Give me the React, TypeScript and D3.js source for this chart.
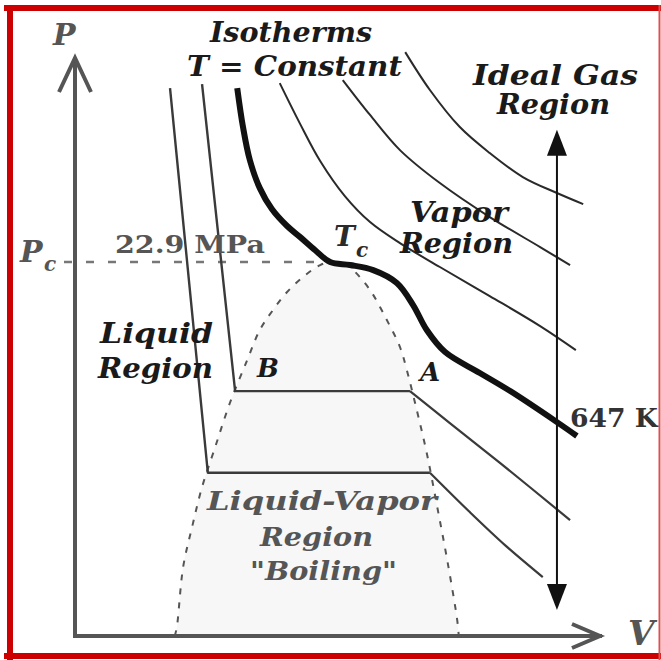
import React from "react";
import { scaleLinear, line, curveCatmullRom, curveLinear } from "d3";

const W = 661;
const H = 660;

const V_MAX = 10;
const P_MAX = 35.4;
const P_CRIT = 22.9;
const V_CRIT = 4.86;

// saturation dome, [V, P]
const domeLeft: [number, number][] = [
  [1.9, 0], [1.94, 0.55], [2.06, 4.23], [2.23, 6.67], [2.42, 9.12],
  [2.67, 11.57], [2.95, 14.27], [3.28, 16.9], [3.52, 18.74], [3.77, 19.96],
  [4.04, 21.07], [4.34, 21.98], [4.67, 22.72], [V_CRIT, P_CRIT],
];
const domeRight: [number, number][] = [
  [5.14, 22.78], [5.3, 22.41], [5.62, 21.19], [5.94, 19.35], [6.19, 17.7],
  [6.32, 16.29], [6.51, 13.84], [6.7, 11.21], [6.9, 7.9], [7.09, 4.65],
  [7.28, 0.98], [7.31, 0],
];

// critical isotherm, 647 K
const isoCritical: [number, number][] = [
  [3.09, 33.56], [3.2, 31.17], [3.33, 29.15], [3.52, 27.43], [3.75, 26.15],
  [4.04, 25.11], [4.29, 24.43], [4.57, 23.64], [V_CRIT, P_CRIT], [5.24, 22.72],
  [5.68, 22.41], [6.13, 21.62], [6.44, 20.27], [6.7, 18.74], [7.05, 17.39],
  [7.71, 16.11], [8.29, 15.0], [9.18, 13.1], [9.56, 12.25],
];

// supercritical isotherms
const isoHotA: [number, number][] = [
  [3.9, 33.86], [4.29, 31.35], [4.67, 29.09], [5.14, 26.94], [5.62, 25.35],
  [6.19, 24.06], [6.95, 22.6], [7.9, 20.82], [8.86, 18.98], [9.54, 17.51],
];
const isoHotB: [number, number][] = [
  [5.1, 34.05], [5.62, 31.91], [6.19, 29.76], [6.95, 27.74], [7.9, 25.66],
  [8.86, 23.82], [9.43, 22.72],
];
const isoHotC: [number, number][] = [
  [6.29, 35.76], [6.76, 33.44], [7.33, 31.17], [7.9, 29.58], [8.53, 28.11],
  [9.18, 27.13], [9.68, 26.45],
];

// subcritical isotherms: liquid branch + boiling plateau, then vapor branch
const isoCold1Liquid: [number, number][] = [[1.81, 33.56], [2.53, 10.0], [6.76, 10.0]];
const isoCold1Vapor: [number, number][] = [[6.76, 10.0], [7.52, 7.59], [8.19, 5.57], [8.91, 3.61]];
const isoCold2Liquid: [number, number][] = [[2.42, 33.8], [3.05, 15.0], [6.38, 15.0]];
const isoCold2Vapor: [number, number][] = [[6.38, 15.0], [7.14, 13.04], [8.1, 10.59], [9.43, 7.1]];

const idealGasV = 9.18;
const idealGasP = [1.6, 31.0];

const FONT = "'DejaVu Serif', serif";

const x = scaleLinear().domain([0, V_MAX]).range([75, 600]);
const y = scaleLinear().domain([0, P_MAX]).range([636, 58]);

const smooth = line<[number, number]>()
  .x((d) => x(d[0]))
  .y((d) => y(d[1]))
  .curve(curveCatmullRom.alpha(0.5));
const straight = line<[number, number]>()
  .x((d) => x(d[0]))
  .y((d) => y(d[1]))
  .curve(curveLinear);

const Label = ({ x, y, w, size, children, color = "#1a1a1a", italic = true }: any) => (
  <text
    x={x}
    y={y}
    fontFamily={FONT}
    fontWeight="bold"
    fontStyle={italic ? "italic" : "normal"}
    fontSize={size}
    fill={color}
    textLength={w}
    lengthAdjust={w ? "spacingAndGlyphs" : undefined}
  >
    {children}
  </text>
);

export default function App() {
  const dome = [...domeLeft, ...domeRight];
  const ax = x(0);
  const ay = y(0);
  const top = y(P_MAX);
  const right = x(V_MAX);
  const gx = x(idealGasV);
  const gTop = y(idealGasP[1]);
  const gBot = y(idealGasP[0]);

  return (
    <svg width={W} height={H} style={{ position: "absolute", left: 0, top: 0 }}>
      <rect x={0} y={0} width={W} height={H} fill="#fff" />

      {/* dome */}
      <path d={smooth(dome) + "Z"} fill="#f7f7f7" stroke="none" />
      <path d={smooth(dome) ?? ""} fill="none" stroke="#555" strokeWidth={2} strokeDasharray="6,8" />

      {/* Pc line */}
      <line x1={ax - 11} x2={x(V_CRIT)} y1={y(P_CRIT)} y2={y(P_CRIT)} stroke="#777" strokeWidth={2.5} strokeDasharray="8,14" />

      {/* axes */}
      <g stroke="#555" strokeWidth={4} fill="none">
        <line x1={ax} y1={ay} x2={ax} y2={top} />
        <line x1={ax} y1={ay} x2={right} y2={ay} strokeLinecap="square" />
        <polyline points={`${ax - 16},${top + 34} ${ax},${top} ${ax + 16},${top + 34}`} />
        <polyline points={`${right - 28},${ay - 12} ${right},${ay} ${right - 28},${ay + 12}`} />
      </g>

      {/* isotherms */}
      <g fill="none" stroke="#2a2a2a" strokeWidth={2}>
        <path d={straight(isoCold1Liquid) ?? ""} strokeLinejoin="round" stroke="#3a3a3a" strokeWidth={2.4} />
        <path d={smooth(isoCold1Vapor) ?? ""} stroke="#3a3a3a" strokeWidth={2.2} />
        <path d={straight(isoCold2Liquid) ?? ""} strokeLinejoin="round" stroke="#3a3a3a" strokeWidth={2.4} />
        <path d={smooth(isoCold2Vapor) ?? ""} stroke="#3a3a3a" strokeWidth={2.2} />
        <path d={smooth(isoHotA) ?? ""} />
        <path d={smooth(isoHotB) ?? ""} />
        <path d={smooth(isoHotC) ?? ""} />
        <path d={smooth(isoCritical) ?? ""} stroke="#111" strokeWidth={6} />
      </g>

      {/* ideal gas double arrow */}
      <line x1={gx} x2={gx} y1={gTop + 20} y2={gBot - 20} stroke="#111" strokeWidth={2} />
      <polygon points={`${gx},${gTop} ${gx - 10},${gTop + 26} ${gx + 10},${gTop + 26}`} fill="#111" />
      <polygon points={`${gx},${gBot} ${gx - 10},${gBot - 26} ${gx + 10},${gBot - 26}`} fill="#111" />

      {/* labels */}
      <Label x={53} y={45} size={30} color="#555">P</Label>
      <Label x={628} y={645} size={34} color="#555">V</Label>
      <Label x={20} y={262} size={30} color="#555">P</Label>
      <Label x={44} y={271} size={20} color="#555">c</Label>
      <Label x={115} y={253} w={150} size={25} color="#555" italic={false}>22.9 MPa</Label>
      <Label x={334} y={246} size={28} color="#2a2a2a">T</Label>
      <Label x={356} y={257} size={20} color="#2a2a2a">c</Label>

      <Label x={210} y={42} w={162} size={28}>Isotherms</Label>
      <Label x={187} y={76} w={215} size={28}>T = Constant</Label>
      <Label x={473} y={85} w={165} size={27}>Ideal Gas</Label>
      <Label x={497} y={114} w={113} size={27}>Region</Label>
      <Label x={410} y={222} w={98} size={27}>Vapor</Label>
      <Label x={400} y={253} w={113} size={27}>Region</Label>
      <Label x={100} y={343} w={113} size={27}>Liquid</Label>
      <Label x={98} y={378} w={115} size={27}>Region</Label>
      <Label x={257} y={377} size={26}>B</Label>
      <Label x={420} y={381} size={26}>A</Label>
      <Label x={570} y={427} w={88} size={26} color="#333" italic={false}>647 K</Label>
      <Label x={207} y={510} w={230} size={26} color="#555">Liquid-Vapor</Label>
      <Label x={260} y={546} w={113} size={26} color="#555">Region</Label>
      <Label x={250} y={580} w={147} size={26} color="#555">"Boiling"</Label>

      {/* frame */}
      <g stroke="#cc0000" fill="none">
        <line x1={4} x2={661} y1={8} y2={8} strokeWidth={6} />
        <line x1={10} x2={10} y1={5} y2={660} strokeWidth={6} />
        <line x1={4} x2={661} y1={656} y2={656} strokeWidth={6} />
        <line x1={659.5} x2={659.5} y1={5} y2={660} strokeWidth={2} stroke="#e05050" />
      </g>
    </svg>
  );
}
